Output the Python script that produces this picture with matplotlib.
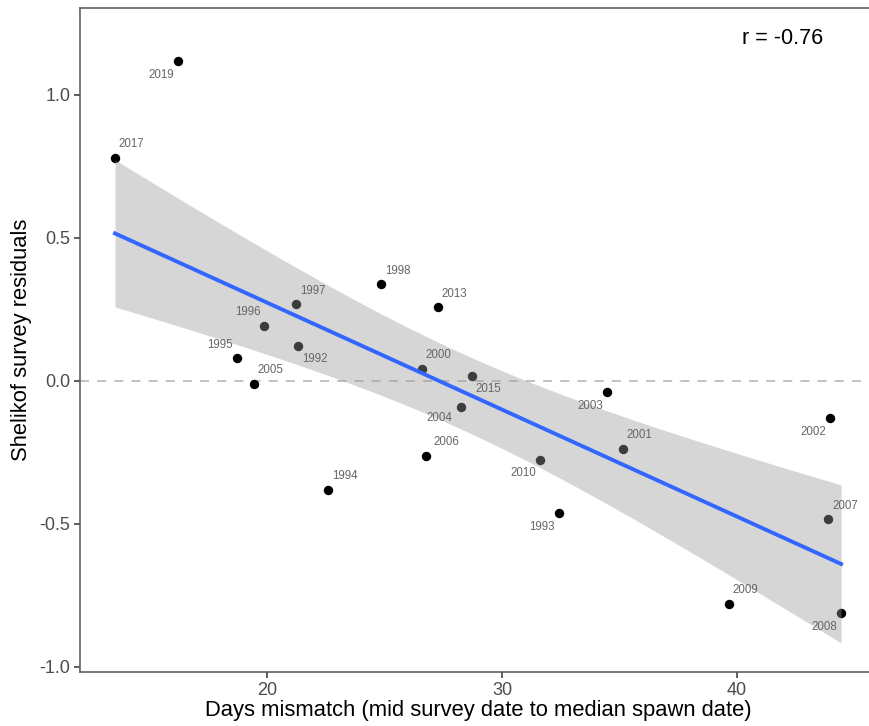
import numpy as np
import matplotlib.pyplot as plt

plt.rcParams['font.family'] = ['Liberation Sans', 'DejaVu Sans']

# survey year, days mismatch, Shelikof residual
years = [2019, 2017, 1998, 2013, 1997, 1996, 1992, 1995, 2005, 2000, 2015,
         2004, 2006, 1994, 2003, 2002, 2001, 2010, 1993, 2007, 2009, 2008]
mismatch = [16.21, 13.53, 24.85, 27.26, 21.23, 19.89, 21.33, 18.71, 19.45, 26.60, 28.72,
            28.26, 26.77, 22.60, 34.48, 43.96, 35.15, 31.60, 32.41, 43.89, 39.66, 44.43]
residuals = [1.118, 0.779, 0.337, 0.257, 0.267, 0.191, 0.122, 0.078, -0.012, 0.041, 0.017,
             -0.091, -0.262, -0.382, -0.041, -0.131, -0.239, -0.276, -0.464, -0.485, -0.781, -0.813]
r_value = -0.76

# which side of the dot each year label sits on
label_side = {2019: (-1, -1), 2017: (1, 1), 1998: (1, 1), 2013: (1, 1), 1997: (1, 1),
              1996: (-1, 1), 1992: (1, -1), 1995: (-1, 1), 2005: (1, 1), 2000: (1, 1),
              2015: (1, -1), 2004: (-1.3, -0.8), 2006: (1.2, 1), 1994: (1, 1), 2003: (-1, -1),
              2002: (-1, -1), 2001: (1, 1), 2010: (-1, -1), 1993: (-1, -1), 2007: (1, 1),
              2009: (1, 1), 2008: (-1, -1)}

x = np.array(mismatch)
y = np.array(residuals)
n = len(x)

# linear fit with 95% confidence band (t, df = n - 2)
slope, intercept = np.polyfit(x, y, 1)
xs = np.linspace(x.min(), x.max(), 80)
fit = intercept + slope * xs
resid = y - (intercept + slope * x)
s = np.sqrt(np.sum(resid ** 2) / (n - 2))
t_crit = 2.086
se = s * np.sqrt(1.0 / n + (xs - x.mean()) ** 2 / np.sum((x - x.mean()) ** 2))

fig = plt.figure(figsize=(8.7, 7.26), dpi=100)
ax = fig.add_axes([80 / 870, 1 - 672 / 726, 797.5 / 870, 664 / 726])

ax.axhline(0, color='#BDBDBD', lw=1.3, ls=(0, (5, 4.5)), zorder=1)
ax.scatter(x, y, s=46, color='black', zorder=2, linewidths=0)
ax.fill_between(xs, fit - t_crit * se, fit + t_crit * se, color='#999999',
                alpha=0.4, lw=0, zorder=3)
ax.plot(xs, fit, color='#3366FF', lw=2.8, zorder=4)

for yr, xi, yi in zip(years, x, y):
    dx, dy = label_side[yr]
    ax.annotate(str(yr), (xi, yi), xytext=(dx * 12, dy * 9.8), textcoords='offset points',
                ha='center', va='center', fontsize=8.3, color='#666666', zorder=5)

ax.text(41.96, 1.198, f'r = {r_value:.2f}', ha='center', va='center',
        fontsize=15.5, color='black')

ax.set_xlim(12.04, 45.98)
ax.set_ylim(-1.019, 1.303)
ax.set_xticks([20, 30, 40])
ax.set_yticks([-1.0, -0.5, 0.0, 0.5, 1.0])
ax.set_yticklabels(['-1.0', '-0.5', '0.0', '0.5', '1.0'])

for side in ['top', 'bottom', 'left']:
    ax.spines[side].set_color('#555555')
    ax.spines[side].set_linewidth(1.1)
ax.spines['right'].set_visible(False)
ax.tick_params(length=4, width=1.1, color='#333333', labelsize=13, labelcolor='#4D4D4D', pad=3)

ax.set_xlabel('Days mismatch (mid survey date to median spawn date)', fontsize=15.8, labelpad=1)
ax.set_ylabel('Shelikof survey residuals', fontsize=15.8, labelpad=5)

fig.savefig('out.png', dpi=100)
